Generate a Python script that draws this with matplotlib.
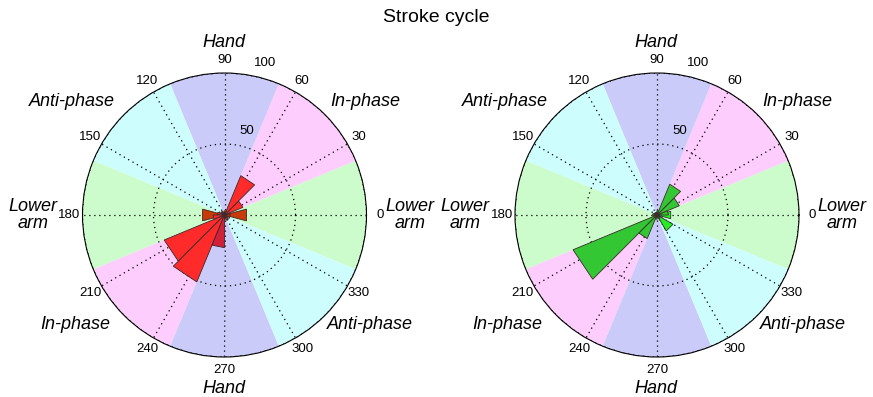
import numpy as np
import matplotlib
matplotlib.use('Agg')
import matplotlib.pyplot as plt

plt.rcParams['font.family'] = ['Liberation Sans', 'DejaVu Sans']

title = 'Stroke cycle'
angle_ticks = list(range(0, 360, 30))

# background sectors (start angle, width, colour)
sector_starts = [-22.5, 22.5, 67.5, 112.5, 157.5, 202.5, 247.5, 292.5]
sector_colors = ['#ccfccc', '#fdcdfd', '#cbcbfa', '#cdfdfd',
                 '#ccfccc', '#fdcdfd', '#cbcbfa', '#cdfdfd']

# rose bins of 22.5 deg, starting at 0
bin_starts = np.arange(0, 360, 22.5)
left_red = [4, 14, 30, 3, 2, 3, 3, 5, 8, 46, 51, 0, 3, 4, 3, 4]
left_crimson = [0, 0, 0, 0, 0, 0, 0, 0, 0, 0, 0, 23, 0, 0, 0, 0]
right_green = [8, 17, 23.5, 3, 2, 2, 2, 3, 3, 64, 18, 3, 2, 3, 2, 3]

# wider 30 deg bins (centre angle, value)
left_orange_centres = [0, 180]
left_orange_vals = [16, 16]
right_light_centres = [0, 315]
right_light_vals = [10, 13]


def wedge(ax, start, width, val, color):
    if val <= 0:
        return
    th = np.radians([start, start, start + width])
    ax.fill(th, [0, val, val], facecolor=color, edgecolor='#3a2a2a', lw=0.6, zorder=3)


def setup(ax):
    for s, c in zip(sector_starts, sector_colors):
        ax.bar(np.radians(s + 22.5), 100, width=np.radians(45), bottom=0,
               color=c, edgecolor='none', zorder=0)
    ax.set_ylim(0, 100)
    ax.set_yticks([50, 100])
    ax.set_yticklabels([])
    ax.set_thetagrids(angle_ticks, [str(a) for a in angle_ticks], fontsize=9.5)
    ax.tick_params(axis='x', pad=-1)
    ax.grid(True, color='black', linestyle=(0, (1, 3)), lw=0.9)
    ax.set_axisbelow(False)
    ax.spines['polar'].set_linewidth(0.8)
    ax.text(np.radians(75), 61, '50', fontsize=9.5, ha='center', va='center', zorder=5)
    ax.text(np.radians(75), 111, '100', fontsize=9.5, ha='center', va='center')
    kw = dict(transform=ax.transAxes, fontsize=13, style='italic', ha='center', va='center')
    ax.text(0.498, 1.108, 'Hand', **kw)
    ax.text(0.498, -0.11, 'Hand', **kw)
    ax.text(0.995, 0.898, 'In-phase', **kw)
    ax.text(-0.037, 0.898, 'Anti-phase', **kw)
    ax.text(-0.026, 0.113, 'In-phase', **kw)
    ax.text(1.012, 0.113, 'Anti-phase', **kw)
    ax.text(1.152, 0.5, 'Lower\narm', linespacing=1.0, **kw)
    ax.text(-0.175, 0.5, 'Lower\narm', linespacing=1.0, **kw)


fig = plt.figure(figsize=(8.73, 3.97), dpi=100)
w, h = 284 / 873, 284 / 397
ax1 = fig.add_axes([82.5 / 873, 40 / 397, w, h], projection='polar')
ax2 = fig.add_axes([515 / 873, 40 / 397, w, h], projection='polar')

for ax in (ax1, ax2):
    setup(ax)

for c, v in zip(left_orange_centres, left_orange_vals):
    wedge(ax1, c - 15, 30, v, '#c83a08')
for s, v in zip(bin_starts, left_red):
    wedge(ax1, s, 22.5, v, '#ff2a2a')
for s, v in zip(bin_starts, left_crimson):
    wedge(ax1, s, 22.5, v, '#d0203a')

for c, v in zip(right_light_centres, right_light_vals):
    wedge(ax2, c - 15, 30, v, '#22f022')
for s, v in zip(bin_starts, right_green):
    wedge(ax2, s, 22.5, v, '#33c833')

fig.text(0.5, 1 - 18 / 397, title, fontsize=14, ha='center', va='center')

fig.savefig('out.png', dpi=100)
